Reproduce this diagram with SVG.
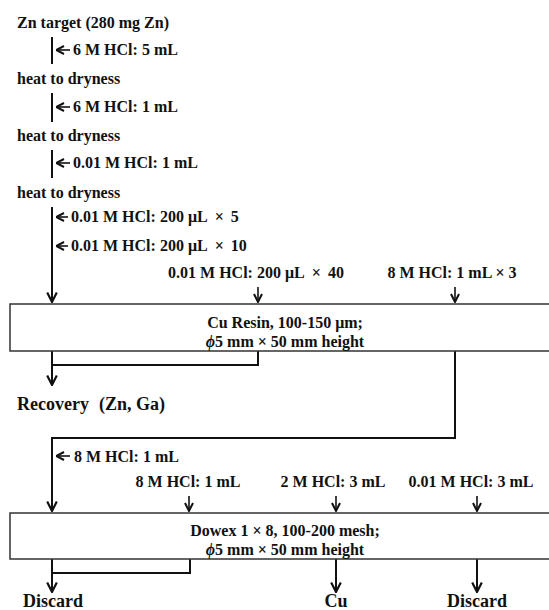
<svg xmlns="http://www.w3.org/2000/svg" width="549" height="610" viewBox="0 0 549 610">
<defs>
<style>
text{font-family:"Liberation Serif","Times New Roman",serif;font-weight:bold;font-size:16px;fill:#111}
.c{text-anchor:middle}
.big{font-size:18px}
.ln{stroke:#111;stroke-width:2;fill:none}
.sm{stroke:#111;stroke-width:1.6;fill:none}
.box{fill:#fff;stroke:#333;stroke-width:1.5}
</style>
<marker id="ah" viewBox="0 0 10 10" refX="9.5" refY="5" markerWidth="12" markerHeight="12" markerUnits="userSpaceOnUse" orient="auto">
<path d="M1.5,1 L9.5,5 L1.5,9" fill="none" stroke="#111" stroke-width="1.8"/>
</marker>
<marker id="ahs" viewBox="0 0 10 10" refX="9.5" refY="5" markerWidth="10" markerHeight="10" markerUnits="userSpaceOnUse" orient="auto">
<path d="M1.5,1 L9.5,5 L1.5,9" fill="none" stroke="#111" stroke-width="2"/>
</marker>
</defs>

<g id="connectors">
<line class="ln" x1="52" y1="37" x2="52" y2="64"/>
<line class="ln" x1="52" y1="93" x2="52" y2="122"/>
<line class="ln" x1="52" y1="150" x2="52" y2="178"/>
<line class="ln" x1="52" y1="207" x2="52" y2="302" marker-end="url(#ah)"/>
<line class="sm" x1="70" y1="50" x2="56" y2="50" marker-end="url(#ahs)"/>
<line class="sm" x1="70" y1="107" x2="56" y2="107" marker-end="url(#ahs)"/>
<line class="sm" x1="70" y1="163" x2="56" y2="163" marker-end="url(#ahs)"/>
<line class="sm" x1="68" y1="217" x2="56" y2="217" marker-end="url(#ahs)"/>
<line class="sm" x1="68" y1="246" x2="56" y2="246" marker-end="url(#ahs)"/>
<line class="sm" x1="258" y1="287" x2="258" y2="302" marker-end="url(#ahs)"/>
<line class="sm" x1="455" y1="287" x2="455" y2="302" marker-end="url(#ahs)"/>
<line class="ln" x1="52" y1="351" x2="52" y2="385" marker-end="url(#ah)"/>
<path class="ln" d="M258,351 V365 H52"/>
<path class="ln" d="M455,351 V438 H52 V511" marker-end="url(#ah)"/>
<line class="sm" x1="70" y1="456" x2="56" y2="456" marker-end="url(#ahs)"/>
<line class="sm" x1="189" y1="496" x2="189" y2="511" marker-end="url(#ahs)"/>
<line class="sm" x1="336" y1="496" x2="336" y2="511" marker-end="url(#ahs)"/>
<line class="sm" x1="477" y1="496" x2="477" y2="511" marker-end="url(#ahs)"/>
<line class="ln" x1="52" y1="559" x2="52" y2="592" marker-end="url(#ah)"/>
<path class="ln" d="M190,559 V573 H52"/>
<line class="ln" x1="336" y1="559" x2="336" y2="592" marker-end="url(#ah)"/>
<line class="ln" x1="477" y1="559" x2="477" y2="592" marker-end="url(#ah)"/>
</g>

<g id="start"><text x="17" y="28">Zn target (280 mg Zn)</text></g>
<g id="step1"><text x="73" y="55">6 M HCl: 5 mL</text></g>
<g id="dry1"><text x="17" y="84">heat to dryness</text></g>
<g id="step2"><text x="73" y="112">6 M HCl: 1 mL</text></g>
<g id="dry2"><text x="17" y="141">heat to dryness</text></g>
<g id="step3"><text x="73" y="168">0.01 M HCl: 1 mL</text></g>
<g id="dry3"><text x="17" y="198">heat to dryness</text></g>
<g id="load1"><text x="71" y="222">0.01 M HCl: 200 μL <tspan dx="4">×</tspan> <tspan dx="3">5</tspan></text></g>
<g id="load2"><text x="71" y="251">0.01 M HCl: 200 μL <tspan dx="4">×</tspan> <tspan dx="3">10</tspan></text></g>
<g id="wash1"><text class="c" x="256" y="278">0.01 M HCl: 200 μL <tspan dx="4">×</tspan> <tspan dx="3">40</tspan></text></g>
<g id="elute1"><text class="c" x="452" y="278">8 M HCl: 1 mL × 3</text></g>

<g id="curesin">
<rect class="box" x="10" y="304" width="560" height="47"/>
<text class="c" x="285" y="328">Cu Resin, 100-150 μm;</text>
<text class="c" x="285" y="347"><tspan font-style="italic">ϕ</tspan>5 mm × 50 mm height</text>
</g>

<g id="recovery"><text class="big" x="17" y="410">Recovery</text><text class="big" x="99" y="410">(Zn, Ga)</text></g>

<g id="load3"><text x="74" y="462">8 M HCl: 1 mL</text></g>
<g id="wash2"><text class="c" x="188" y="487">8 M HCl: 1 mL</text></g>
<g id="elute2"><text class="c" x="333" y="487">2 M HCl: 3 mL</text></g>
<g id="elute3"><text class="c" x="471" y="487">0.01 M HCl: 3 mL</text></g>

<g id="dowex">
<rect class="box" x="10" y="513" width="560" height="46"/>
<text class="c" x="285" y="536">Dowex 1 × 8, 100-200 mesh;</text>
<text class="c" x="285" y="555"><tspan font-style="italic">ϕ</tspan>5 mm × 50 mm height</text>
</g>

<g id="discard1"><text class="c big" x="53" y="607">Discard</text></g>
<g id="cu"><text class="c big" x="336" y="607">Cu</text></g>
<g id="discard2"><text class="c big" x="477" y="607">Discard</text></g>
</svg>
